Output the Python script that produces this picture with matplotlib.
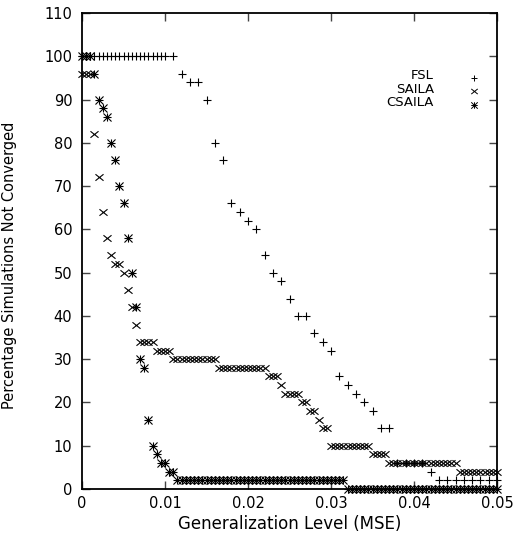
import matplotlib
matplotlib.use('Agg')
import matplotlib.pyplot as plt
import numpy as np
from matplotlib.path import Path

plt.rcParams['font.family'] = ['DejaVu Sans']

# ---- data ----
# FSL: dense samples at the 100% plateau, then every 0.001
fsl_x = [0.0000, 0.0005, 0.0010, 0.0015, 0.0020, 0.0025, 0.0030, 0.0035, 0.0040, 0.0045,
         0.0050, 0.0055, 0.0060, 0.0065, 0.0070, 0.0075, 0.0080, 0.0085, 0.0090, 0.0095,
         0.0100, 0.011, 0.012, 0.013, 0.014, 0.015, 0.016, 0.017, 0.018, 0.019,
         0.020, 0.021, 0.022, 0.023, 0.024, 0.025, 0.026, 0.027, 0.028, 0.029,
         0.030, 0.031, 0.032, 0.033, 0.034, 0.035, 0.036, 0.037, 0.038, 0.039,
         0.040, 0.041, 0.042, 0.043, 0.044, 0.045, 0.046, 0.047, 0.048, 0.049,
         0.050]
fsl_y = [100, 100, 100, 100, 100, 100, 100, 100, 100, 100,
         100, 100, 100, 100, 100, 100, 100, 100, 100, 100,
         100, 100, 96, 94, 94, 90, 80, 76, 66, 64,
         62, 60, 54, 50, 48, 44, 40, 40, 36, 34,
         32, 26, 24, 22, 20, 18, 14, 14, 6, 6,
         6, 6, 4, 2, 2, 2, 2, 2, 2, 2,
         2]

# SAILA and CSAILA sampled every 0.0005 from 0 to 0.05
grid_x = np.round(np.arange(101) * 0.0005, 4)
saila_y = [96, 96, 96, 82, 72, 64, 58, 54, 52, 52,
           50, 46, 42, 38, 34, 34, 34, 34, 32, 32,
           32, 32, 30, 30, 30, 30, 30, 30, 30, 30,
           30, 30, 30, 28, 28, 28, 28, 28, 28, 28,
           28, 28, 28, 28, 28, 26, 26, 26, 24, 22,
           22, 22, 22, 20, 20, 18, 18, 16, 14, 14,
           10, 10, 10, 10, 10, 10, 10, 10, 10, 10,
           8, 8, 8, 8, 6, 6, 6, 6, 6, 6,
           6, 6, 6, 6, 6, 6, 6, 6, 6, 6,
           6, 4, 4, 4, 4, 4, 4, 4, 4, 4,
           4]
csaila_y = [100, 100, 100, 96, 90, 88, 86, 80, 76, 70,
            66, 58, 50, 42, 30, 28, 16, 10, 8, 6,
            6, 4, 4, 2, 2, 2, 2, 2, 2, 2,
            2, 2, 2, 2, 2, 2, 2, 2, 2, 2,
            2, 2, 2, 2, 2, 2, 2, 2, 2, 2,
            2, 2, 2, 2, 2, 2, 2, 2, 2, 2,
            2, 2, 2, 2, 0, 0, 0, 0, 0, 0,
            0, 0, 0, 0, 0, 0, 0, 0, 0, 0,
            0, 0, 0, 0, 0, 0, 0, 0, 0, 0,
            0, 0, 0, 0, 0, 0, 0, 0, 0, 0,
            0]

series_names = ['FSL', 'SAILA', 'CSAILA']
x_ticks = [0, 0.01, 0.02, 0.03, 0.04, 0.05]
x_ticklabels = ['0', '0.01', '0.02', '0.03', '0.04', '0.05']
y_ticks = list(range(0, 111, 10))

# ---- markers (gnuplot-like) ----
star_verts = [(-1, 0), (1, 0), (0, -1), (0, 1), (-1, -1), (1, 1), (-1, 1), (1, -1)]
star_marker = Path(star_verts, [Path.MOVETO, Path.LINETO] * 4)
plus_marker = Path([(-1, 0), (1, 0), (0, -1), (0, 1)], [Path.MOVETO, Path.LINETO] * 2)
x_marker = Path([(-1, -0.8), (1, 0.8), (-1, 0.8), (1, -0.8)], [Path.MOVETO, Path.LINETO] * 2)

fig = plt.figure(figsize=(5.18, 5.35), dpi=100)
ax = fig.add_axes([82 / 518, 1 - 489 / 535, 415 / 518, 476 / 535])

ms = 5.8
mew = 0.8
style = dict(linestyle='none', color='black', markersize=ms, markeredgewidth=mew,
             markerfacecolor='none', clip_on=False)

ax.plot(fsl_x, fsl_y, marker=plus_marker, **style)
ax.plot(grid_x, saila_y, marker=x_marker, **style)
ax.plot(grid_x, csaila_y, marker=star_marker, **style)

ax.set_xlim(0, 0.05)
ax.set_ylim(0, 110)
ax.set_xticks(x_ticks)
ax.set_xticklabels(x_ticklabels)
ax.set_yticks(y_ticks)

for s in ax.spines.values():
    s.set_linewidth(1.3)
    s.set_color('black')

ax.tick_params(direction='in', length=6, width=1.0, top=True, right=True,
               labelsize=10.5, color='#444444')
ax.tick_params(axis='y', pad=7)
ax.tick_params(axis='x', pad=5)

ax.set_xlabel('Generalization Level (MSE)', fontsize=12, labelpad=3)
ax.set_ylabel('Percentage Simulations Not Converged', fontsize=10.5)
ax.yaxis.set_label_coords(-0.157, 0.47)

# ---- legend (gnuplot style: right-aligned text, sample to the right) ----
leg_markers = [plus_marker, x_marker, star_marker]
leg_y = [0.868, 0.840, 0.8116]
for name, mk, yy in zip(series_names, leg_markers, leg_y):
    ax.text(0.848, yy, name, transform=ax.transAxes, ha='right', va='center',
            fontsize=9.5)
    ax.plot([0.9446], [yy - 0.004], transform=ax.transAxes, marker=mk,
            linestyle='none', color='black', markersize=ms * 0.8,
            markeredgewidth=0.7, markerfacecolor='none')

fig.savefig('out.png', dpi=100)
